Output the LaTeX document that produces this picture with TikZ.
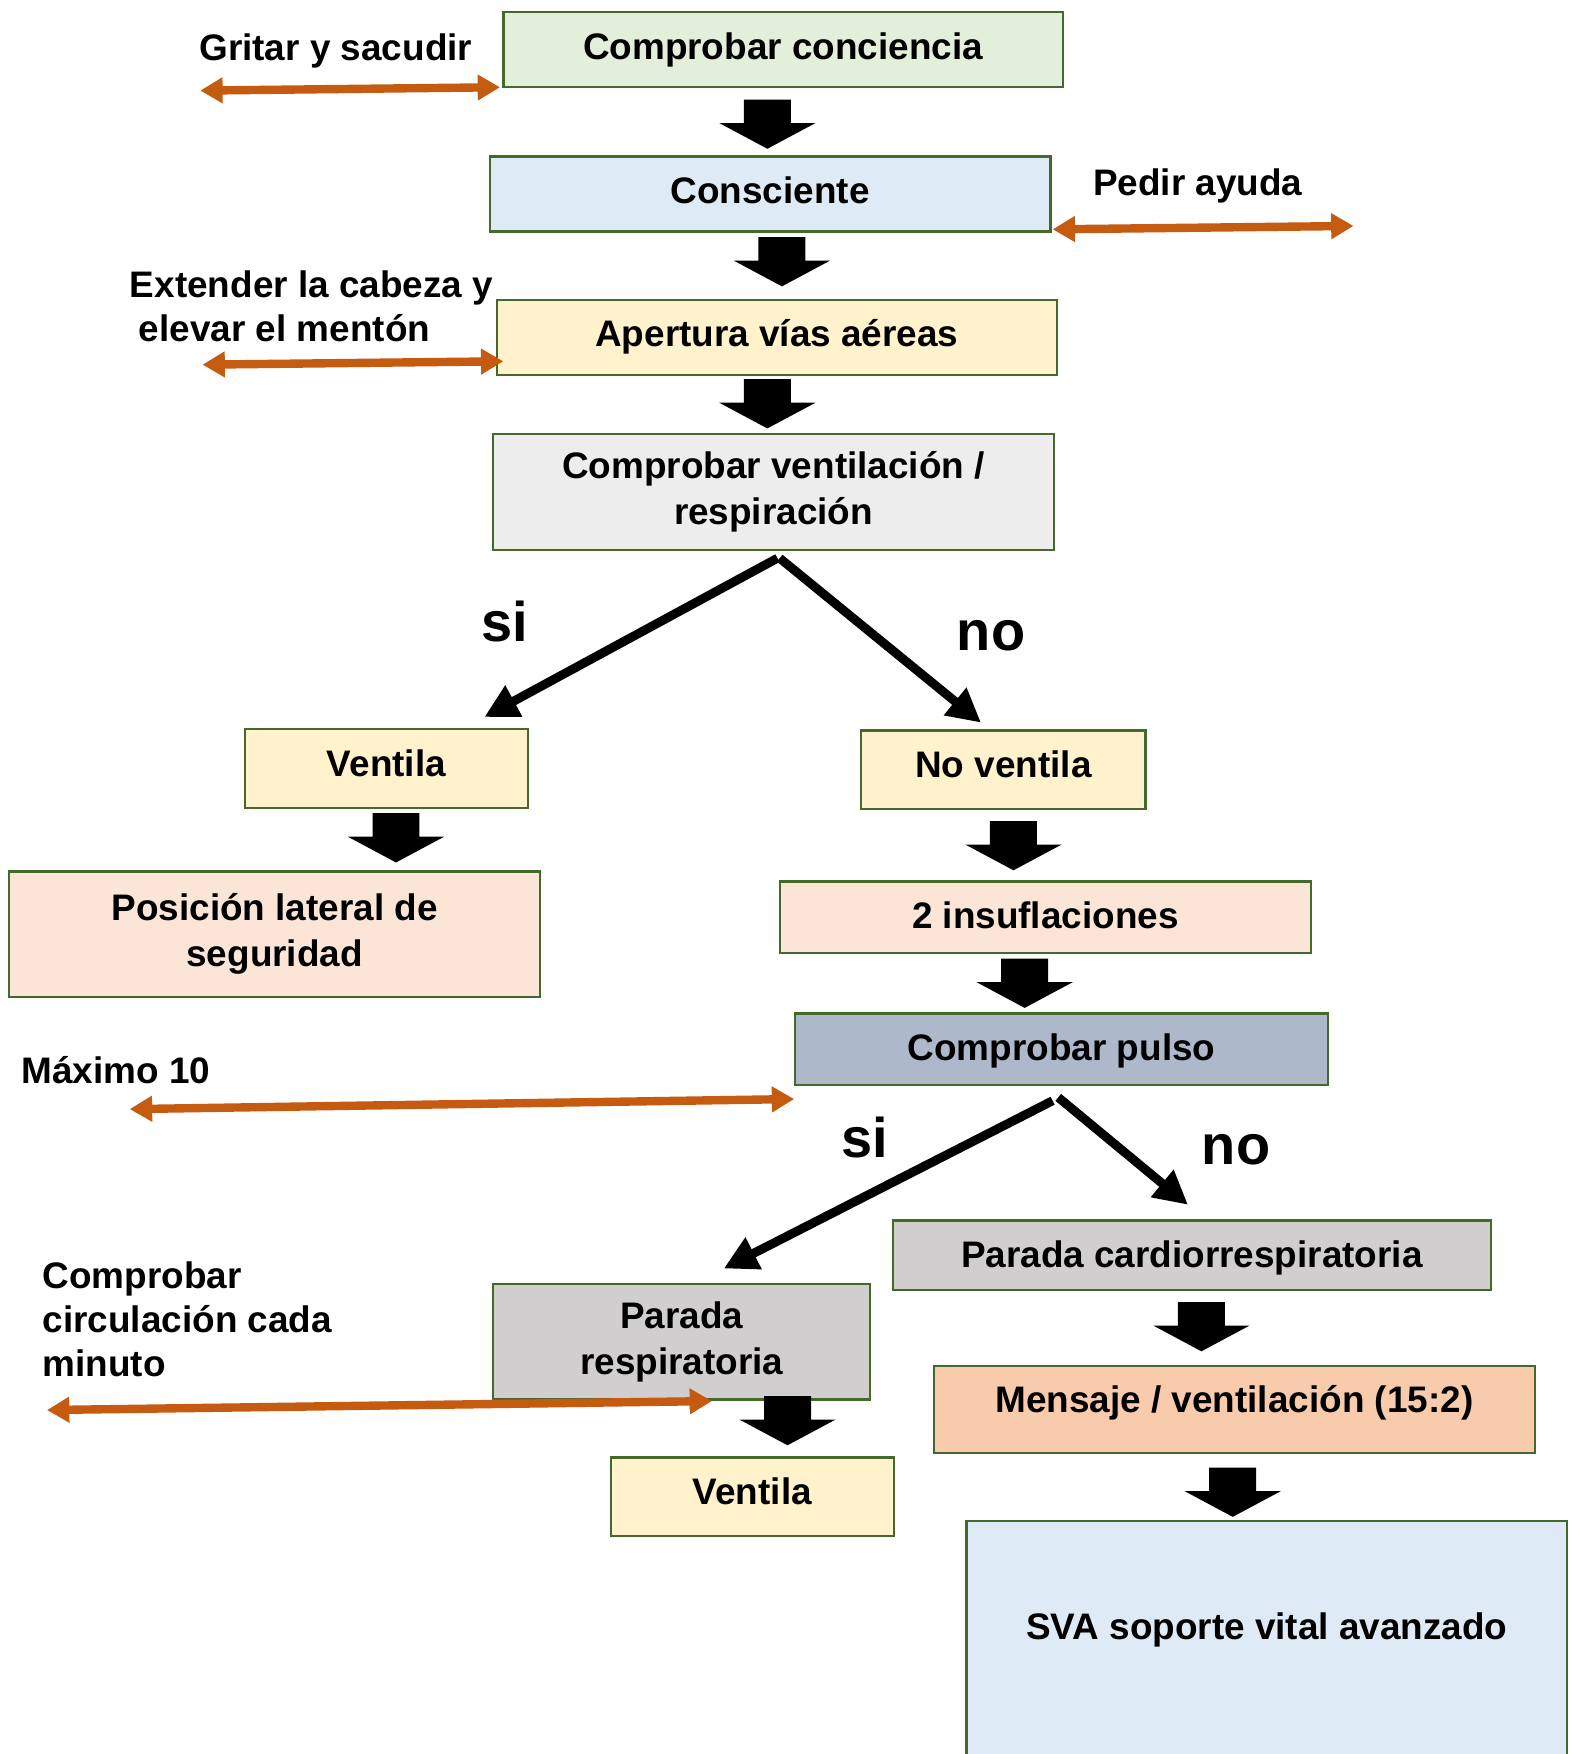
\documentclass[tikz,border=0pt]{standalone}
\usepackage{fontspec}
\setmainfont{Liberation Sans}
\usetikzlibrary{arrows.meta}
\definecolor{bordergreen}{HTML}{436A2A}
\definecolor{cgreen}{HTML}{E2EFDA}
\definecolor{cblue}{HTML}{DEEBF7}
\definecolor{cyellow}{HTML}{FFF2CC}
\definecolor{cgraylt}{HTML}{EDEDED}
\definecolor{cpeach}{HTML}{FBE5D6}
\definecolor{cslate}{HTML}{ADB9CA}
\definecolor{cgray}{HTML}{D0CECE}
\definecolor{csalmon}{HTML}{F8CBAD}
\definecolor{orangeline}{HTML}{C55A11}
\begin{document}
\begin{tikzpicture}[x=1pt,y=-1pt,
  box/.style={draw=bordergreen, line width=2pt, inner sep=0pt, align=center, font=\fontsize{33}{41}\selectfont\bfseries},
  oneline/.style={text height=24pt, text depth=#1},
  lbl/.style={inner sep=0pt, align=left, font=\fontsize{33}{39}\selectfont\bfseries},
  yn/.style={inner sep=0pt, font=\fontsize{50}{60}\selectfont\bfseries},
  orarrow/.style={draw=orangeline, line width=7.5pt, {Triangle[length=20pt,width=22pt]}-{Triangle[length=20pt,width=22pt]}},
  bigarrow/.style={draw=black, line width=8pt, -{Triangle[length=30pt,width=30pt]}},
  blockdown/.pic={\fill[black] (-21,0) -- (21,0) -- (21,21) -- (43,21) -- (0,44) -- (-43,21) -- (-21,21) -- cycle;}
]
\fill[white] (0,0) rectangle (1408,1568);
\useasboundingbox (0,0) rectangle (1408,1568);

% boxes
\node[box, oneline=7pt, fill=cgreen, minimum width=500pt, minimum height=67pt] (b1) at (700,44.5) {Comprobar conciencia};
\node[box, oneline=7pt, fill=cblue, minimum width=501pt, minimum height=67pt] (b2) at (688.5,173.5) {Consciente};
\node[box, oneline=7pt, fill=cyellow, minimum width=501pt, minimum height=67pt] (b3) at (694.5,301.5) {Apertura vías aéreas};
\node[box, fill=cgraylt, minimum width=501pt, minimum height=104pt] (b4) at (691.5,440) {Comprobar ventilación /\\respiración};
\node[box, oneline=10pt, fill=cyellow, minimum width=253pt, minimum height=70pt] (b5) at (345.5,687) {Ventila};
\node[box, oneline=10pt, fill=cyellow, minimum width=254pt, minimum height=70pt] (b6) at (897,688) {No ventila};
\node[box, fill=cpeach, minimum width=475pt, minimum height=112pt] (b7) at (245.5,835) {Posición lateral de\\seguridad};
\node[box, oneline=4pt, fill=cpeach, minimum width=475pt, minimum height=64pt] (b8) at (934.5,820) {2 insuflaciones};
\node[box, oneline=4pt, fill=cslate, minimum width=476pt, minimum height=64pt] (b9) at (949,938) {Comprobar pulso};
\node[box, oneline=2pt, fill=cgray, minimum width=535pt, minimum height=62pt] (b10) at (1065.5,1122) {Parada cardiorrespiratoria};
\node[box, fill=cgray, minimum width=337pt, minimum height=103pt] (b11) at (609.5,1199.5) {Parada\\respiratoria};
\node[box, oneline=18pt, fill=csalmon, minimum width=537pt, minimum height=78pt] (b12) at (1103.5,1260) {Mensaje / ventilación (15:2)};
\node[box, oneline=10pt, fill=cyellow, minimum width=253pt, minimum height=70pt] (b13) at (672.5,1338) {Ventila};
\node[box, fill=cblue, minimum width=537pt, minimum height=230pt, anchor=north] (b14) at (1132.5,1359) {};
\node[box, draw=none] (b14t) at (1132.5,1457) {SVA soporte vital avanzado};

% side labels
\node[lbl, anchor=base west] (t1) at (178,54) {Gritar y sacudir};
\node[lbl, anchor=base west] (t2) at (977,175) {Pedir ayuda};
\node[lbl, anchor=north west] (t3) at (116,242) {Extender la cabeza y\\\hspace{8pt}elevar el mentón};
\node[lbl, anchor=base west] (t4) at (19,969) {Máximo 10};
\node[lbl, anchor=north west] (t5) at (38,1128) {Comprobar\\circulación cada\\minuto};

% si / no
\node[yn] (si1) at (451,556) {si};
\node[yn] (no1) at (886,568) {no};
\node[yn] (si2) at (773,1017) {si};
\node[yn] (no2) at (1105,1028) {no};

% block arrows
\pic at (686,89) {blockdown};
\pic at (699,212) {blockdown};
\pic at (686,339) {blockdown};
\pic at (354,727) {blockdown};
\pic at (906,734) {blockdown};
\pic at (916,857) {blockdown};
\pic at (1074,1164) {blockdown};
\pic at (704,1248) {blockdown};
\pic at (1102,1312) {blockdown};

% diagonal arrows
\coordinate (d1s) at (695,499);
\coordinate (d1e) at (433,641);
\coordinate (d2s) at (697,499);
\coordinate (d2e) at (877,646);
\coordinate (d3s) at (941,984);
\coordinate (d3e) at (647,1134);
\coordinate (d4s) at (946,981);
\coordinate (d4e) at (1062,1077);
\draw[bigarrow] (d1s) -- (d1e);
\draw[bigarrow] (d2s) -- (d2e);
\draw[bigarrow] (d3s) -- (d3e);
\draw[bigarrow] (d4s) -- (d4e);

% orange double arrows
\coordinate (o1a) at (179,81);
\coordinate (o1b) at (447,78);
\coordinate (o2a) at (941,205);
\coordinate (o2b) at (1210,202);
\coordinate (o3a) at (181,326);
\coordinate (o3b) at (450,323);
\coordinate (o4a) at (116,991.5);
\coordinate (o4b) at (710,982.5);
\coordinate (o5a) at (42,1260.5);
\coordinate (o5b) at (636.5,1252.5);
\draw[orarrow] (o1a) -- (o1b);
\draw[orarrow] (o2a) -- (o2b);
\draw[orarrow] (o3a) -- (o3b);
\draw[orarrow] (o4a) -- (o4b);
\draw[orarrow] (o5a) -- (o5b);
\end{tikzpicture}
\end{document}
